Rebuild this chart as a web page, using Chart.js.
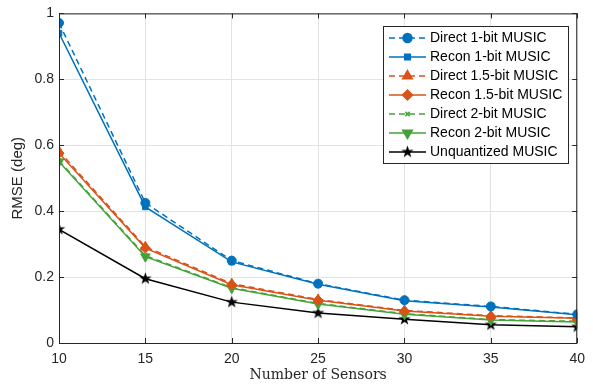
<!DOCTYPE html>
<html><head><meta charset="utf-8">
<script src="https://cdn.jsdelivr.net/npm/chart.js@4/dist/chart.umd.min.js"></script>
<style>html,body{margin:0;padding:0;background:#fff}#wrap{width:593px;height:386px}</style>
</head><body><div id="wrap"><canvas id="c" width="593" height="386"></canvas></div>
<script>
const sensors = [10, 15, 20, 25, 30, 35, 40];
const direct1 = [0.971, 0.425, 0.250, 0.180, 0.130, 0.111, 0.087];
const recon1  = [0.940, 0.413, 0.246, 0.178, 0.128, 0.109, 0.086];
const direct15 = [0.582, 0.292, 0.180, 0.132, 0.099, 0.083, 0.076];
const recon15  = [0.576, 0.288, 0.177, 0.130, 0.097, 0.081, 0.075];
const direct2 = [0.553, 0.265, 0.168, 0.120, 0.089, 0.071, 0.066];
const recon2  = [0.550, 0.262, 0.166, 0.118, 0.087, 0.070, 0.064];
const unquant = [0.345, 0.195, 0.124, 0.091, 0.072, 0.055, 0.049];
const yTicks = [0, 0.2, 0.4, 0.6, 0.8, 1];
const labels = ['Direct 1-bit MUSIC','Recon 1-bit MUSIC','Direct 1.5-bit MUSIC','Recon 1.5-bit MUSIC','Direct 2-bit MUSIC','Recon 2-bit MUSIC','Unquantized MUSIC'];

const BLUE='#0072BD', ORANGE='#D95319', GREEN='#45A23A', BLACK='#000000';
const SANS='"Liberation Sans", Arial, sans-serif';

function makeStar(r){
  const s=document.createElement('canvas'); const d=Math.ceil(r*2+2);
  s.width=d; s.height=d; const g=s.getContext('2d');
  g.beginPath();
  for(let i=0;i<10;i++){
    const rad = i%2===0 ? r : r*0.4;
    const a = -Math.PI/2 + i*Math.PI/5;
    const x=d/2+rad*Math.cos(a), y=d/2+rad*Math.sin(a);
    i===0?g.moveTo(x,y):g.lineTo(x,y);
  }
  g.closePath(); g.fillStyle='#000'; g.fill();
  return s;
}
const star = makeStar(6.5);

function ds(label, data, color, style, radius, dashed, rot){
  return {label, data: sensors.map((x,i)=>({x, y:data[i]})), borderColor:color, backgroundColor:color,
    pointBackgroundColor:color, pointBorderColor:color, pointStyle:style, pointRadius:radius,
    pointRotation: rot||0, borderWidth:1.5, pointBorderWidth:1, borderDash: dashed?[6,4]:[], fill:false, tension:0};
}
const datasets = [
  ds(labels[0], direct1, BLUE, 'circle', 4.5, true),
  ds(labels[1], recon1, BLUE, 'rect', 4, false),
  ds(labels[2], direct15, ORANGE, 'triangle', 5.5, true),
  ds(labels[3], recon15, ORANGE, 'rectRot', 5, false),
  ds(labels[4], direct2, GREEN, 'crossRot', 3, true),
  ds(labels[5], recon2, GREEN, 'triangle', 5.5, false, 180),
  ds(labels[6], unquant, BLACK, star, 6.5, false),
];
datasets[4].pointBorderWidth = 2.5;

const frame = {
  id:'frame',
  afterDatasetsDraw(chart){
    const {ctx, chartArea:a, scales} = chart;
    ctx.save();
    ctx.strokeStyle='#262626'; ctx.lineWidth=1;
    ctx.strokeRect(a.left+0.5, a.top+0.5, a.right-a.left-1, a.bottom-a.top);
    ctx.beginPath();
    sensors.forEach(v=>{ const x=Math.round(scales.x.getPixelForValue(v))+0.5;
      ctx.moveTo(x,a.bottom); ctx.lineTo(x,a.bottom-5); ctx.moveTo(x,a.top); ctx.lineTo(x,a.top+5); });
    yTicks.forEach(v=>{ const y=Math.round(scales.y.getPixelForValue(v))+0.5;
      ctx.moveTo(a.left,y); ctx.lineTo(a.left+5,y); ctx.moveTo(a.right,y); ctx.lineTo(a.right-5,y); });
    ctx.stroke();
    // legend
    const lx=383.5, ly=26.5, lw=185, lh=137;
    ctx.fillStyle='#fff'; ctx.fillRect(lx,ly,lw,lh);
    ctx.strokeStyle='#262626'; ctx.strokeRect(lx,ly,lw,lh);
    ctx.font='14px '+SANS; ctx.textBaseline='middle';
    chart.data.datasets.forEach((d,i)=>{
      const y = 38 + i*19;
      ctx.save();
      ctx.strokeStyle=d.borderColor; ctx.lineWidth=1.5; ctx.setLineDash(d.borderDash);
      ctx.beginPath(); ctx.moveTo(389,y); ctx.lineTo(426,y); ctx.stroke();
      ctx.setLineDash([]);
      ctx.fillStyle=d.pointBackgroundColor; ctx.strokeStyle=d.pointBorderColor;
      Chart.helpers.drawPoint(ctx,{pointStyle:d.pointStyle, radius:d.pointRadius, rotation:d.pointRotation, borderWidth:d.pointBorderWidth}, 407.5, y);
      ctx.restore();
      ctx.fillStyle='#000'; ctx.fillText(d.label, 430, y+0.5);
    });
    ctx.restore();
  }
};

new Chart(document.getElementById('c'), {
  type:'line',
  data:{datasets},
  options:{
    responsive:false, animation:false, events:[],
    layout:{padding:{top:13, right:13, left:0, bottom:0}},
    plugins:{legend:{display:false}, tooltip:{enabled:false}},
    scales:{
      x:{type:'linear', min:10, max:40,
        afterFit(s){ s.height=43; },
        afterBuildTicks(s){ s.ticks = sensors.map(v=>({value:v})); },
        ticks:{color:'#262626', font:{family:SANS, size:14}, padding:8, maxRotation:0},
        grid:{color:'#e3e3e3', drawTicks:false, tickLength:0},
        border:{display:false},
        title:{display:true, text:'Number of Sensors', color:'#262626', font:{family:'"DejaVu Serif", "Liberation Serif", serif', size:14}, padding:{top:0,bottom:2}}
      },
      y:{type:'linear', min:0, max:1,
        afterFit(s){ s.width=59; },
        afterBuildTicks(s){ s.ticks = yTicks.map(v=>({value:v})); },
        ticks:{color:'#262626', font:{family:SANS, size:14}, padding:5,
          callback:(v)=> (v===0||v===1)? String(v) : v.toFixed(1)},
        grid:{color:'#e3e3e3', drawTicks:false, tickLength:0},
        border:{display:false},
        title:{display:true, text:'RMSE (deg)', color:'#262626', font:{family:SANS, size:15}, padding:{top:9,bottom:0}}
      }
    }
  },
  plugins:[frame]
});
</script></body></html>
